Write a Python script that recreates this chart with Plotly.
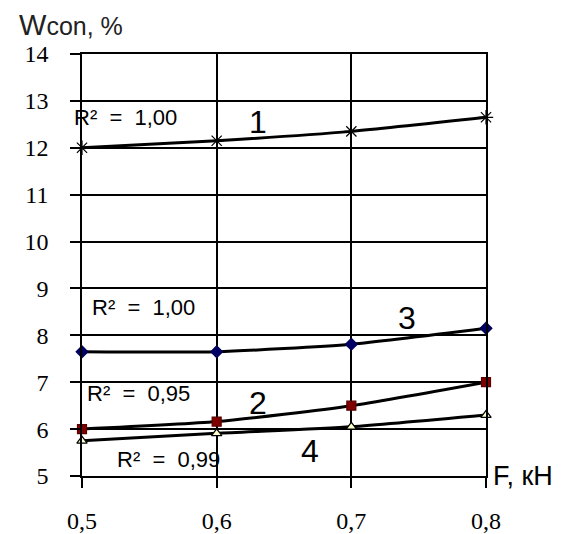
import plotly.graph_objects as go

force = [0.5, 0.6, 0.7, 0.8]
s1 = [12.0, 12.15, 12.35, 12.65]
s2 = [6.0, 6.16, 6.5, 7.0]
s3 = [7.65, 7.65, 7.81, 8.15]
s4 = [5.75, 5.91, 6.05, 6.3]

xticks = [0.5, 0.6, 0.7, 0.8]
xticklabels = ["0,5", "0,6", "0,7", "0,8"]
yticks = [5, 6, 7, 8, 9, 10, 11, 12, 13, 14]

fig = go.Figure()

def add(y, symbol, color, fill, size):
    fig.add_trace(go.Scatter(
        x=force, y=y, mode="lines+markers",
        line=dict(color="black", width=3, shape="spline", smoothing=0.6),
        marker=dict(symbol=symbol, size=size, color=fill, line=dict(color=color, width=1.2)),
        cliponaxis=False, showlegend=False))

add(s1, "asterisk-open", "black", "black", 12)
add(s3, "diamond", "#000055", "#000066", 9)
add(s2, "square", "#5a0000", "#800000", 9)
add(s4, "triangle-up", "black", "#ffffcc", 9)

NB = "\u00a0"
def r2(v):
    return "R²" + NB + NB + "=" + NB + NB + v

ann_font = dict(family="Liberation Sans", size=22, color="black")
num_font = dict(family="Liberation Sans", size=32, color="black")
anns = [
    dict(x=0.631, y=12.55, text="1", font=num_font),
    dict(x=0.506, y=8.6, text=r2("1,00"), xanchor="left", font=ann_font),
    dict(x=0.741, y=8.37, text="3", font=num_font),
    dict(x=0.502, y=6.77, text=r2("0,95"), xanchor="left", font=ann_font),
    dict(x=0.631, y=6.56, text="2", font=num_font),
    dict(x=0.5245, y=5.36, text=r2("0,99"), xanchor="left", font=ann_font),
    dict(x=0.669, y=5.53, text="4", font=num_font),
]
for a in anns:
    a.update(xref="x", yref="y", showarrow=False, yanchor="middle")
    fig.add_annotation(**a)

fig.add_annotation(xref="paper", yref="y", x=-0.025, y=12.65, text=r2("1,00"),
                   xanchor="left", yanchor="middle", showarrow=False, font=ann_font)
fig.add_annotation(xref="paper", yref="y", x=1.012, y=5.0, text="F, кН",
                   xanchor="left", yanchor="middle", showarrow=False,
                   font=dict(family="Liberation Sans", size=27, color="black"))
fig.add_annotation(xref="paper", yref="paper", x=-0.16, y=1.027,
                   text="W<span style='font-size:25px'>con, %</span>",
                   xanchor="left", yanchor="bottom", showarrow=False,
                   font=dict(family="Liberation Sans", size=29, color="#222"))

tick_font = dict(family="Liberation Serif, DejaVu Serif, serif", size=24, color="black")

axis_common = dict(showgrid=True, gridcolor="black", gridwidth=1.5,
                   showline=True, linecolor="black", linewidth=1.5, mirror=True,
                   ticks="outside", ticklen=10, tickcolor="black", tickwidth=1.5,
                   zeroline=False, automargin=False, tickfont=tick_font)

fig.update_xaxes(range=[0.5, 0.8], tickmode="array", tickvals=xticks, ticktext=xticklabels,
                 ticklabelstandoff=12, **axis_common)
fig.update_yaxes(range=[5, 14], tickmode="array", tickvals=yticks,
                 ticklabelstandoff=17, **axis_common)

fig.update_layout(width=584, height=534, margin=dict(l=74, r=106, t=46, b=66),
                  paper_bgcolor="white", plot_bgcolor="white")

fig.write_html("out.html")
